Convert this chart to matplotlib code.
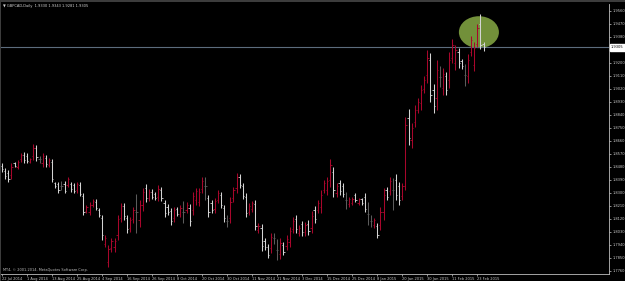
import numpy as np
import matplotlib.pyplot as plt
from matplotlib.patches import Ellipse, Rectangle

# GBPCAD daily bars, 22 Jul 2014 .. 25 Feb 2015
date_labels = ["22 Jul 2014", "1 Aug 2014", "13 Aug 2014", "25 Aug 2014", "4 Sep 2014",
               "16 Sep 2014", "26 Sep 2014", "8 Oct 2014", "20 Oct 2014", "30 Oct 2014",
               "11 Nov 2014", "21 Nov 2014", "3 Dec 2014", "15 Dec 2014", "25 Dec 2014",
               "8 Jan 2015", "20 Jan 2015", "30 Jan 2015", "11 Feb 2015", "23 Feb 2015"]

opens = [1.8486, 1.8451, 1.8437, 1.8423, 1.8506, 1.8478, 1.8534, 1.8561, 1.8554, 1.8513,
         1.8554, 1.8610, 1.8534, 1.8506, 1.8541, 1.8492, 1.8513, 1.8367, 1.8361, 1.8347,
         1.8361, 1.8354, 1.8361, 1.8354, 1.8319, 1.8354, 1.8278, 1.8174, 1.8167, 1.8215,
         1.8236, 1.8181, 1.8126, 1.7945, 1.7821, 1.7918, 1.7925, 1.8008, 1.8126, 1.8208,
         1.8126, 1.8056, 1.8119, 1.8167, 1.8112, 1.8215, 1.8333, 1.8264, 1.8305, 1.8291,
         1.8271, 1.8319, 1.8229, 1.8202, 1.8174, 1.8126, 1.8188, 1.8153, 1.8167, 1.8181,
         1.8195, 1.8181, 1.8250, 1.8236, 1.8326, 1.8347, 1.8264, 1.8229, 1.8188, 1.8250,
         1.8285, 1.8195, 1.8105, 1.8126, 1.8264, 1.8333, 1.8409, 1.8347, 1.8271, 1.8167,
         1.8188, 1.8222, 1.8042, 1.8056, 1.7966, 1.7925, 1.7918, 1.7987, 1.7904, 1.7876,
         1.7939, 1.7932, 1.7959, 1.8049, 1.8119, 1.8021, 1.8084, 1.8028, 1.8084, 1.8056,
         1.8181, 1.8181, 1.8202, 1.8319, 1.8319, 1.8388, 1.8444, 1.8298, 1.8367, 1.8347,
         1.8250, 1.8222, 1.8229, 1.8285, 1.8229, 1.8257, 1.8271, 1.8153, 1.8105, 1.8077,
         1.8070, 1.8077, 1.8167, 1.8319, 1.8312, 1.8319, 1.8388, 1.8347, 1.8278, 1.8347,
         1.8817, 1.8665, 1.8790, 1.8873, 1.8921, 1.9018, 1.9115, 1.9219, 1.9011, 1.8956,
         1.9101, 1.9025, 1.9108, 1.9080, 1.9233, 1.9198, 1.9274, 1.9212, 1.9115, 1.9108,
         1.9274, 1.9184, 1.9330, 1.9468, 1.9330]

highs = [1.8506, 1.8472, 1.8458, 1.8506, 1.8513, 1.8527, 1.8575, 1.8582, 1.8575, 1.8541,
         1.8638, 1.8631, 1.8554, 1.8575, 1.8561, 1.8541, 1.8534, 1.8374, 1.8374, 1.8381,
         1.8381, 1.8409, 1.8374, 1.8367, 1.8374, 1.8374, 1.8298, 1.8215, 1.8236, 1.8257,
         1.8257, 1.8195, 1.8146, 1.8008, 1.7939, 1.7987, 1.7987, 1.8146, 1.8229, 1.8229,
         1.8146, 1.8133, 1.8202, 1.8291, 1.8250, 1.8333, 1.8361, 1.8326, 1.8326, 1.8305,
         1.8354, 1.8340, 1.8250, 1.8222, 1.8195, 1.8202, 1.8202, 1.8215, 1.8243, 1.8236,
         1.8222, 1.8305, 1.8333, 1.8333, 1.8409, 1.8409, 1.8285, 1.8250, 1.8264, 1.8319,
         1.8305, 1.8215, 1.8146, 1.8271, 1.8340, 1.8437, 1.8430, 1.8367, 1.8298, 1.8229,
         1.8243, 1.8250, 1.8091, 1.8084, 1.7987, 1.7945, 1.8021, 1.8021, 1.7980, 1.7987,
         1.7959, 1.8008, 1.8063, 1.8133, 1.8146, 1.8077, 1.8105, 1.8098, 1.8112, 1.8174,
         1.8208, 1.8250, 1.8319, 1.8388, 1.8409, 1.8534, 1.8478, 1.8367, 1.8388, 1.8367,
         1.8305, 1.8271, 1.8271, 1.8298, 1.8264, 1.8264, 1.8298, 1.8236, 1.8146, 1.8126,
         1.8091, 1.8202, 1.8333, 1.8340, 1.8409, 1.8402, 1.8430, 1.8374, 1.8367, 1.8824,
         1.8880, 1.8783, 1.8907, 1.8956, 1.9046, 1.9108, 1.9288, 1.9267, 1.9053, 1.9219,
         1.9177, 1.9163, 1.9136, 1.9274, 1.9364, 1.9323, 1.9302, 1.9226, 1.9191, 1.9260,
         1.9385, 1.9343, 1.9468, 1.9537, 1.9343]

lows = [1.8444, 1.8395, 1.8374, 1.8395, 1.8478, 1.8465, 1.8513, 1.8506, 1.8506, 1.8506,
        1.8527, 1.8520, 1.8506, 1.8478, 1.8478, 1.8478, 1.8374, 1.8333, 1.8298, 1.8319,
        1.8298, 1.8340, 1.8305, 1.8298, 1.8298, 1.8278, 1.8146, 1.8160, 1.8146, 1.8202,
        1.8181, 1.8133, 1.7973, 1.7925, 1.7787, 1.7890, 1.7890, 1.7973, 1.8098, 1.8112,
        1.8021, 1.8028, 1.8091, 1.8021, 1.8063, 1.8174, 1.8236, 1.8243, 1.8257, 1.8250,
        1.8243, 1.8243, 1.8133, 1.8146, 1.8077, 1.8098, 1.8139, 1.8133, 1.8091, 1.8160,
        1.8070, 1.8146, 1.8215, 1.8208, 1.8298, 1.8250, 1.8133, 1.8160, 1.8160, 1.8229,
        1.8195, 1.8098, 1.8063, 1.8091, 1.8236, 1.8298, 1.8333, 1.8257, 1.8133, 1.8146,
        1.8167, 1.8042, 1.8021, 1.7897, 1.7904, 1.7849, 1.7883, 1.7945, 1.7835, 1.7842,
        1.7869, 1.7904, 1.7925, 1.8021, 1.8021, 1.8001, 1.8001, 1.8001, 1.8008, 1.8021,
        1.8091, 1.8160, 1.8160, 1.8298, 1.8285, 1.8340, 1.8271, 1.8271, 1.8285, 1.8271,
        1.8188, 1.8202, 1.8215, 1.8236, 1.8215, 1.8215, 1.8167, 1.8077, 1.8063, 1.8056,
        1.7987, 1.8042, 1.8112, 1.8250, 1.8285, 1.8181, 1.8250, 1.8215, 1.8250, 1.8319,
        1.8631, 1.8610, 1.8755, 1.8852, 1.8873, 1.8991, 1.9060, 1.8928, 1.8852, 1.8873,
        1.9032, 1.8977, 1.8977, 1.9025, 1.9198, 1.9150, 1.9163, 1.9157, 1.9039, 1.9060,
        1.9246, 1.9143, 1.9309, 1.9295, 1.9281]

closes = [1.8465, 1.8416, 1.8395, 1.8478, 1.8485, 1.8513, 1.8561, 1.8527, 1.8520, 1.8534,
          1.8610, 1.8548, 1.8534, 1.8554, 1.8499, 1.8527, 1.8395, 1.8347, 1.8319, 1.8347,
          1.8312, 1.8395, 1.8326, 1.8312, 1.8361, 1.8291, 1.8167, 1.8202, 1.8215, 1.8243,
          1.8195, 1.8146, 1.8008, 1.7987, 1.7911, 1.7966, 1.7966, 1.8119, 1.8208, 1.8139,
          1.8049, 1.8112, 1.8181, 1.8167, 1.8215, 1.8305, 1.8264, 1.8305, 1.8271, 1.8264,
          1.8326, 1.8264, 1.8160, 1.8167, 1.8105, 1.8181, 1.8153, 1.8195, 1.8167, 1.8215,
          1.8105, 1.8278, 1.8312, 1.8305, 1.8381, 1.8347, 1.8167, 1.8181, 1.8243, 1.8298,
          1.8215, 1.8126, 1.8105, 1.8236, 1.8319, 1.8409, 1.8354, 1.8278, 1.8160, 1.8208,
          1.8229, 1.8070, 1.8070, 1.7932, 1.7925, 1.7869, 1.7994, 1.7987, 1.7904, 1.7952,
          1.7890, 1.7980, 1.8035, 1.8105, 1.8049, 1.8056, 1.8028, 1.8077, 1.8035, 1.8139,
          1.8119, 1.8229, 1.8285, 1.8367, 1.8381, 1.8492, 1.8319, 1.8347, 1.8312, 1.8291,
          1.8250, 1.8257, 1.8257, 1.8250, 1.8257, 1.8229, 1.8188, 1.8153, 1.8105, 1.8112,
          1.8008, 1.8167, 1.8285, 1.8271, 1.8381, 1.8319, 1.8285, 1.8250, 1.8347, 1.8769,
          1.8679, 1.8748, 1.8873, 1.8928, 1.9011, 1.9080, 1.9233, 1.8977, 1.8900, 1.9150,
          1.9101, 1.9122, 1.9011, 1.9219, 1.9323, 1.9288, 1.9198, 1.9177, 1.9115, 1.9219,
          1.9357, 1.9302, 1.9440, 1.9323, 1.9305]

bid_price = 1.9305

o = np.array(opens)
h = np.array(highs)
l = np.array(lows)
c = np.array(closes)
x = np.arange(len(c))

# red = up bar, light grey = down bar, dark grey = unchanged
cols = np.where(c > o, '#a8062c', np.where(c < o, '#d4d4d4', '#5c5c5c'))

fig = plt.figure(figsize=(6.25, 2.81), dpi=100, facecolor='black')
W, H = 625.0, 281.0
ax = fig.add_axes([0, 1 - 273.5 / H, 609 / W, (273.5 - 4) / H])
ax.set_facecolor('black')
ax.set_xlim(-0.64, 194.1)
ax.set_ylim(1.7741, 1.9606)

# marked area around the last highs
ax.add_patch(Ellipse((152.5, 1.9411), 12.8, 0.0221, facecolor='#72903a',
                     edgecolor='none', zorder=1))

ax.axhline(bid_price, color='#5c6c7d', lw=0.8, zorder=2)

ax.vlines(x, l, h, colors=cols, lw=0.75, zorder=3)
ax.hlines(o, x - 0.4, x, colors=cols, lw=0.6, zorder=3)
ax.hlines(c, x, x + 0.4, colors=cols, lw=0.6, zorder=3)

# axes styling
for side in ['left', 'top']:
    ax.spines[side].set_visible(False)
for side in ['right', 'bottom']:
    ax.spines[side].set_color('#bdbdbd')
    ax.spines[side].set_linewidth(0.6)

ax.yaxis.tick_right()
yt = [1.9560 - 0.009 * k for k in range(21)]
ax.set_yticks(yt)
ax.set_yticklabels([f"{v:.4f}" for v in yt])
ax.tick_params(axis='y', colors='#c8c8c8', labelsize=2.6, length=1.5, width=0.5, pad=0.8)

ax.set_xticks(np.arange(0, len(date_labels) * 8, 8))
ax.set_xticklabels(date_labels, ha='left')
ax.tick_params(axis='x', colors='#c8c8c8', labelsize=2.6, length=1.5, width=0.5, pad=1.0)

# current price tag on the price scale
ax.text(1.003, bid_price, f"{bid_price:.4f}", transform=ax.get_yaxis_transform(),
        ha='left', va='center', fontsize=2.6, color='black', clip_on=False, zorder=10,
        bbox=dict(boxstyle='square,pad=0.35', facecolor='white', edgecolor='white'))

# header and copyright line
fig.text(3 / W, 1 - 5.5 / H,
         f"\u25bc GBPCAD,Daily  {o[-1]:.4f} {h[-1]:.4f} {l[-1]:.4f} {c[-1]:.4f}",
         fontsize=2.6, color='#d0d0d0', ha='left', va='center')
fig.text(3 / W, 1 - 270 / H, "MT4, \u00a9 2001-2014, MetaQuotes Software Corp.",
         fontsize=2.5, color='#c0c0c0', ha='left', va='center')

# window frame strips
fig.patches.append(Rectangle((0, 1 - 2 / H), 1, 2 / H, transform=fig.transFigure,
                             facecolor='#3c3c3c', edgecolor='none'))
fig.patches.append(Rectangle((0, 0), 1.5 / W, 1, transform=fig.transFigure,
                             facecolor='#3c3c3c', edgecolor='none'))

fig.savefig('out.png', dpi=100, facecolor='black')
